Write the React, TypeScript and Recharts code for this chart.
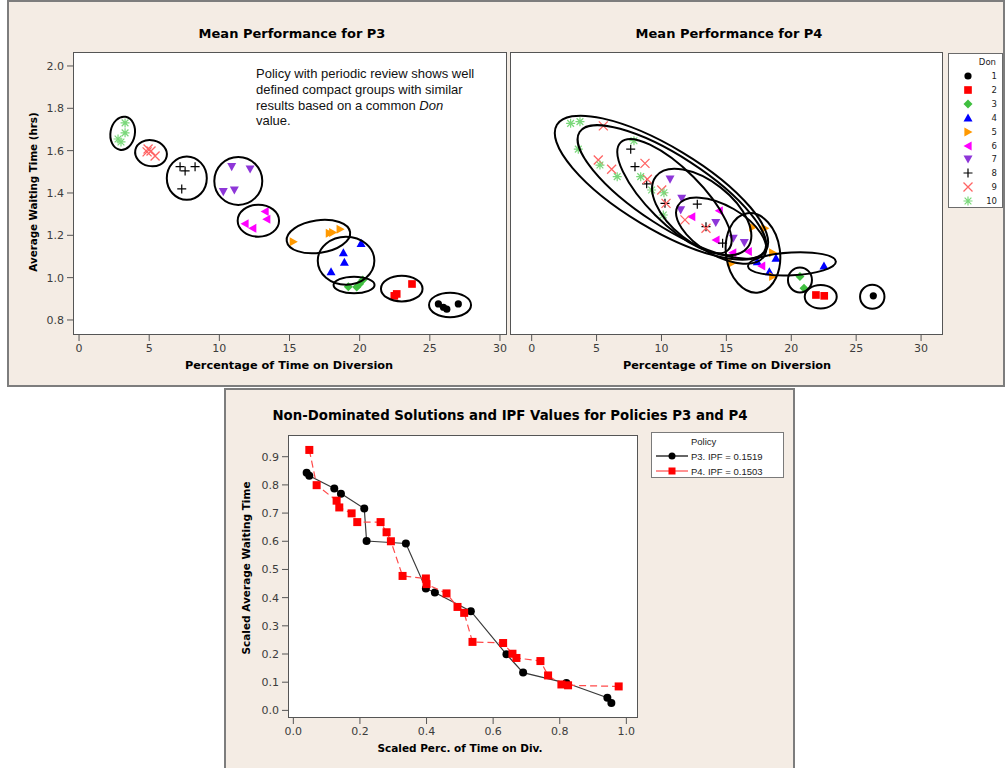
import React from "react";
import { ScatterChart, Scatter, XAxis, YAxis } from "recharts";

type Pair = [number, number];

// ---- Mean Performance for P3 (x = % time on diversion, y = avg waiting time) ----
const p3Don1: Pair[] = [[25.61, 0.876], [25.97, 0.86], [26.21, 0.851], [27.03, 0.876]];
const p3Don2: Pair[] = [[22.64, 0.923], [22.47, 0.914], [23.73, 0.97]];
const p3Don3: Pair[] = [[19.19, 0.957], [19.79, 0.956], [19.99, 0.97], [20.22, 0.989]];
const p3Don4: Pair[] = [[20.1, 1.162], [18.84, 1.118], [18.91, 1.073], [17.96, 1.028]];
const p3Don5: Pair[] = [[15.27, 1.17], [17.84, 1.21], [18.08, 1.213], [18.61, 1.229]];
const p3Don6: Pair[] = [[13.26, 1.312], [13.38, 1.276], [11.83, 1.254], [12.38, 1.233]];
const p3Don7: Pair[] = [[10.88, 1.524], [12.19, 1.513], [10.28, 1.406], [11.07, 1.414]];
const p3Don8: Pair[] = [[7.2, 1.524], [7.56, 1.504], [8.27, 1.524], [7.32, 1.419]];
const p3Don9: Pair[] = [[4.92, 1.608], [5.13, 1.598], [5.42, 1.575], [4.85, 1.594]];
const p3Don10: Pair[] = [[3.28, 1.731], [3.28, 1.684], [2.78, 1.655], [2.99, 1.641]];
const p3Centres: Pair[] = [
  [26.44, 0.871], [23.0, 0.948], [19.6, 0.965], [19.03, 1.08], [17.06, 1.194],
  [12.78, 1.269], [11.35, 1.457], [7.68, 1.47], [5.13, 1.588], [3.11, 1.682],
];

// ---- Mean Performance for P4 ----
const p4Don1: Pair[] = [[26.32, 0.914]];
const p4Don2: Pair[] = [[21.9, 0.918], [22.54, 0.914]];
const p4Don3: Pair[] = [[20.67, 1.005], [20.98, 0.95]];
const p4Don4: Pair[] = [[17.38, 1.076], [18.82, 1.092], [18.31, 1.028], [22.52, 1.055]];
const p4Don5: Pair[] = [[17.03, 1.238], [17.97, 1.233], [18.57, 1.118], [15.41, 1.068], [18.57, 1.005]];
const p4Don6: Pair[] = [[12.33, 1.288], [14.45, 1.316], [14.2, 1.178], [15.49, 1.118], [16.69, 1.123], [17.72, 1.055]];
const p4Don7: Pair[] = [[10.66, 1.465], [11.56, 1.375], [11.48, 1.32], [14.18, 1.26], [15.53, 1.186], [16.38, 1.165]];
const p4Don8: Pair[] = [[7.63, 1.607], [7.96, 1.524], [8.86, 1.443], [10.27, 1.351], [12.76, 1.347], [13.43, 1.241], [14.71, 1.163]];
const p4Don9: Pair[] = [[5.52, 1.717], [5.13, 1.556], [6.16, 1.512], [8.73, 1.54], [8.91, 1.465], [10.02, 1.414], [10.35, 1.351], [11.81, 1.273], [13.43, 1.233]];
const p4Don10: Pair[] = [[3.0, 1.729], [3.72, 1.737], [3.59, 1.607], [5.26, 1.532], [6.59, 1.477], [7.88, 1.647], [8.4, 1.477], [9.24, 1.414], [10.19, 1.401], [10.14, 1.296]];
const p4Centres: Pair[] = [
  [26.24, 0.91], [22.27, 0.91], [20.67, 0.989], [20.05, 1.065], [17.05, 1.117],
  [14.6, 1.222], [13.1, 1.31], [11.0, 1.385], [10.8, 1.405], [10.0, 1.425],
];

// ---- Non-dominated solutions (scaled) ----
const p3Front: Pair[] = [
  [0.04, 0.843], [0.048, 0.832], [0.123, 0.787], [0.143, 0.769], [0.213, 0.716],
  [0.22, 0.601], [0.338, 0.592], [0.398, 0.432], [0.425, 0.418], [0.533, 0.352],
  [0.64, 0.199], [0.69, 0.134], [0.82, 0.097], [0.943, 0.045], [0.955, 0.026],
];
const p4Front: Pair[] = [
  [0.048, 0.924], [0.07, 0.799], [0.13, 0.744], [0.138, 0.72], [0.175, 0.699],
  [0.192, 0.668], [0.262, 0.668], [0.28, 0.632], [0.293, 0.6], [0.328, 0.477],
  [0.398, 0.468], [0.4, 0.448], [0.46, 0.415], [0.493, 0.367], [0.513, 0.346],
  [0.538, 0.243], [0.63, 0.239], [0.658, 0.201], [0.67, 0.186], [0.742, 0.175],
  [0.765, 0.124], [0.805, 0.092], [0.825, 0.089], [0.977, 0.085],
];

const donLevels = [1, 2, 3, 4, 5, 6, 7, 8, 9, 10];
const perfTicksX = [0, 5, 10, 15, 20, 25, 30];
const perfTicksY = [0.8, 1.0, 1.2, 1.4, 1.6, 1.8, 2.0];
const scaledTicksX = [0, 0.2, 0.4, 0.6, 0.8, 1.0];
const scaledTicksY = [0, 0.1, 0.2, 0.3, 0.4, 0.5, 0.6, 0.7, 0.8, 0.9];
const policyNames = ["P3. IPF = 0.1519", "P4. IPF = 0.1503"];

// styling
const donShape = ["circle", "square", "diamond", "up", "right", "left", "down", "plus", "x", "star"];
const donColor = ["#000000", "#ff0000", "#3fbf3f", "#0000ff", "#ff9900", "#ff00ff", "#8e36d8", "#000000", "#ff6464", "#7ad87a"];
// ring sizes in px: rx, ry, rotation
const p3Rings = [[21, 12.3, 0], [20.8, 12.8, 0], [20.5, 8.3, 0], [28.3, 24, 0], [32, 16.3, -8], [20.7, 16, 0], [24, 24, 0], [20, 21.7, 0], [16, 13, 12], [12.2, 16.7, 10]];
const p4Rings = [[12.2, 12, 0], [16, 11.7, 0], [12, 12.5, 0], [44, 11.5, -3], [27, 40, -8], [50, 25, 30], [58, 31, 38], [76, 27, 45], [110, 35, 33], [122, 41, 31]];

const toPts = (a: Pair[]) => a.map(([x, y]) => ({ x, y }));
const p3Sets = [p3Don1, p3Don2, p3Don3, p3Don4, p3Don5, p3Don6, p3Don7, p3Don8, p3Don9, p3Don10];
const p4Sets = [p4Don1, p4Don2, p4Don3, p4Don4, p4Don5, p4Don6, p4Don7, p4Don8, p4Don9, p4Don10];

const beige = "#f4ece4";
const tickFont = { fontSize: 11, fill: "#3c3c3c", fontFamily: "DejaVu Sans" };

function Marker({ kind, x, y, color, s = 9 }: { kind: string; x: number; y: number; color: string; s?: number }) {
  const h = s / 2;
  switch (kind) {
    case "circle":
      return <circle cx={x} cy={y} r={h * 0.8} fill={color} />;
    case "square":
      return <rect x={x - h * 0.85} y={y - h * 0.85} width={h * 1.7} height={h * 1.7} fill={color} />;
    case "diamond":
      return <polygon points={`${x},${y - h} ${x + h},${y} ${x},${y + h} ${x - h},${y}`} fill={color} />;
    case "up":
      return <polygon points={`${x},${y - h} ${x + h},${y + h * 0.8} ${x - h},${y + h * 0.8}`} fill={color} />;
    case "down":
      return <polygon points={`${x},${y + h} ${x + h},${y - h * 0.8} ${x - h},${y - h * 0.8}`} fill={color} />;
    case "right":
      return <polygon points={`${x + h},${y} ${x - h * 0.8},${y - h} ${x - h * 0.8},${y + h}`} fill={color} />;
    case "left":
      return <polygon points={`${x - h},${y} ${x + h * 0.8},${y - h} ${x + h * 0.8},${y + h}`} fill={color} />;
    case "plus":
      return <path d={`M${x - h},${y}H${x + h}M${x},${y - h}V${y + h}`} stroke={color} strokeWidth={1.2} />;
    case "x":
      return <path d={`M${x - h},${y - h}L${x + h},${y + h}M${x - h},${y + h}L${x + h},${y - h}`} stroke={color} strokeWidth={1.3} />;
    default:
      return (
        <path
          d={`M${x - h},${y}H${x + h}M${x},${y - h}V${y + h}M${x - h * 0.75},${y - h * 0.75}L${x + h * 0.75},${y + h * 0.75}M${x - h * 0.75},${y + h * 0.75}L${x + h * 0.75},${y - h * 0.75}`}
          stroke={color}
          strokeWidth={1.2}
        />
      );
  }
}

function Txt({ x, y, children, size = 11, bold = false, rotate = 0, family = "DejaVu Sans", color = "#000" }: any) {
  return (
    <div
      style={{
        position: "absolute",
        left: x,
        top: y,
        transform: `translate(-50%, -50%) rotate(${rotate}deg)`,
        whiteSpace: "nowrap",
        fontSize: size,
        fontWeight: bold ? "bold" : "normal",
        fontFamily: family,
        color,
        lineHeight: 1,
      }}
    >
      {children}
    </div>
  );
}

function Frame({ left, top, width, height }: any) {
  return (
    <div
      style={{
        position: "absolute",
        left,
        top,
        width,
        height,
        background: "#fff",
        border: "1.5px solid #555",
        boxSizing: "border-box",
      }}
    />
  );
}

function PerfPanel({ sets, centres, rings, xDomain, showY }: any) {
  const ringData = centres.map(([x, y]: Pair, i: number) => ({ x, y, don: i + 1 }));
  return (
    <ScatterChart width={showY ? 474 : 433} height={313} margin={{ top: 0, right: 0, bottom: 0, left: 0 }}>
      <XAxis
        type="number"
        dataKey="x"
        domain={xDomain}
        allowDataOverflow
        ticks={perfTicksX}
        axisLine={false}
        tickSize={6}
        tickMargin={3}
        tickLine={{ stroke: "#555" }}
        tick={tickFont}
        height={30}
        interval={0}
      />
      <YAxis
        type="number"
        dataKey="y"
        domain={[0.729, 2.066]}
        allowDataOverflow
        ticks={perfTicksY}
        tickFormatter={(v: number) => v.toFixed(1)}
        axisLine={false}
        tickSize={6}
        tickMargin={3}
        tickLine={{ stroke: "#555" }}
        tick={tickFont}
        width={40}
        hide={!showY}
        interval={0}
      />
      {sets.map((s: Pair[], i: number) => (
        <Scatter
          key={i}
          name={String(donLevels[i])}
          data={toPts(s)}
          isAnimationActive={false}
          shape={(p: any) => <Marker kind={donShape[i]} x={p.cx} y={p.cy} color={donColor[i]} />}
        />
      ))}
      <Scatter
        name="rings"
        data={ringData}
        isAnimationActive={false}
        shape={(p: any) => {
          const [rx, ry, a] = rings[p.payload.don - 1];
          return (
            <ellipse
              cx={p.cx}
              cy={p.cy}
              rx={rx}
              ry={ry}
              transform={`rotate(${a} ${p.cx} ${p.cy})`}
              fill="none"
              stroke="#000"
              strokeWidth={2}
            />
          );
        }}
      />
    </ScatterChart>
  );
}

function ScaledPanel() {
  return (
    <ScatterChart width={385} height={313} margin={{ top: 0, right: 0, bottom: 0, left: 0 }}>
      <XAxis
        type="number"
        dataKey="x"
        domain={[-0.016, 1.035]}
        allowDataOverflow
        ticks={scaledTicksX}
        tickFormatter={(v: number) => v.toFixed(1)}
        axisLine={false}
        tickSize={6}
        tickMargin={3}
        tickLine={{ stroke: "#555" }}
        tick={tickFont}
        height={30}
        interval={0}
      />
      <YAxis
        type="number"
        dataKey="y"
        domain={[-0.027, 0.977]}
        allowDataOverflow
        ticks={scaledTicksY}
        tickFormatter={(v: number) => v.toFixed(1)}
        axisLine={false}
        tickSize={6}
        tickMargin={3}
        tickLine={{ stroke: "#555" }}
        tick={tickFont}
        width={35}
        interval={0}
      />
      <Scatter
        name={policyNames[0]}
        data={toPts(p3Front)}
        line={{ stroke: "#3a3a3a", strokeWidth: 1.2 }}
        lineType="joint"
        isAnimationActive={false}
        shape={(p: any) => <circle cx={p.cx} cy={p.cy} r={4} fill="#000" />}
      />
      <Scatter
        name={policyNames[1]}
        data={toPts(p4Front)}
        line={{ stroke: "#ff4a4a", strokeWidth: 1.2, strokeDasharray: "7 4" }}
        lineType="joint"
        isAnimationActive={false}
        shape={(p: any) => <rect x={p.cx - 4} y={p.cy - 4} width={8} height={8} fill="#ff0000" />}
      />
    </ScatterChart>
  );
}

export default function App() {
  return (
    <div style={{ position: "absolute", left: 0, top: 0, width: 1005, height: 768, background: "#fff", overflow: "hidden", fontFamily: "DejaVu Sans" }}>
      {/* top panel */}
      <div style={{ position: "absolute", left: 7, top: 0, width: 998, height: 387, background: beige, border: "2px solid #7d7d7d", boxSizing: "border-box" }} />
      <Frame left={73} top={52} width={434} height={283} />
      <Frame left={510} top={52} width={433} height={283} />
      <div style={{ position: "absolute", left: 33, top: 52 }}>
        <PerfPanel sets={p3Sets} centres={p3Centres} rings={p3Rings} xDomain={[-0.43, 30.5]} showY />
      </div>
      <div style={{ position: "absolute", left: 510, top: 52 }}>
        <PerfPanel sets={p4Sets} centres={p4Centres} rings={p4Rings} xDomain={[-1.67, 31.69]} showY={false} />
      </div>
      <Txt x={292} y={33} size={13} bold>Mean Performance for P3</Txt>
      <Txt x={729} y={33} size={13} bold>Mean Performance for P4</Txt>
      <Txt x={289} y={366} size={11.3} bold>Percentage of Time on Diversion</Txt>
      <Txt x={727} y={366} size={11.3} bold>Percentage of Time on Diversion</Txt>
      <Txt x={33} y={192} size={10.3} bold rotate={-90}>Average Waiting Time (hrs)</Txt>
      <div style={{ position: "absolute", left: 256, top: 66, fontFamily: "Liberation Sans", fontSize: 13, lineHeight: "15.8px", color: "#111" }}>
        Policy with periodic review shows well
        <br />
        defined compact groups with similar
        <br />
        results based on a common <i>Don</i>
        <br />
        value.
      </div>
      {/* Don legend */}
      <div style={{ position: "absolute", left: 948, top: 53, width: 55, height: 155, background: "#fff", border: "1px solid #6b6b6b", boxSizing: "border-box" }}>
        <div style={{ position: "absolute", right: 6, top: 3, fontSize: 8.5, color: "#222" }}>Don</div>
        {donLevels.map((d, i) => (
          <div key={d} style={{ position: "absolute", left: 0, top: 16 + i * 13.9, width: 53, height: 12 }}>
            <svg width={14} height={12} style={{ position: "absolute", left: 12, top: 0 }}>
              <Marker kind={donShape[i]} x={7} y={6} color={donColor[i]} s={9} />
            </svg>
            <div style={{ position: "absolute", right: 5, top: 1, fontSize: 8.5, color: "#222" }}>{d}</div>
          </div>
        ))}
      </div>

      {/* bottom panel */}
      <div style={{ position: "absolute", left: 224, top: 388, width: 571, height: 385, background: beige, border: "2px solid #7d7d7d", boxSizing: "border-box" }} />
      <Frame left={288} top={435} width={350} height={283} />
      <div style={{ position: "absolute", left: 253, top: 435 }}>
        <ScaledPanel />
      </div>
      <Txt x={510} y={416} size={13.3} bold>Non-Dominated Solutions and IPF Values for Policies P3 and P4</Txt>
      <Txt x={460} y={748} size={10.5} bold>Scaled Perc. of Time on Div.</Txt>
      <Txt x={246} y={568} size={10.5} bold rotate={-90}>Scaled Average Waiting Time</Txt>
      <div style={{ position: "absolute", left: 651, top: 432, width: 133, height: 46, background: "#fff", border: "1px solid #7a7a7a", boxSizing: "border-box", fontFamily: "Liberation Sans", fontSize: 9.5, color: "#222" }}>
        <div style={{ position: "absolute", left: 39, top: 3 }}>Policy</div>
        <svg width={36} height={34} style={{ position: "absolute", left: 3, top: 17 }}>
          <line x1={1} y1={6} x2={33} y2={6} stroke="#000" strokeWidth={1.2} />
          <circle cx={17} cy={6} r={3.5} fill="#000" />
          <line x1={1} y1={21} x2={33} y2={21} stroke="#ff4a4a" strokeWidth={1.2} />
          <rect x={13.5} y={17.5} width={7} height={7} fill="#ff0000" />
        </svg>
        <div style={{ position: "absolute", left: 39, top: 18 }}>{policyNames[0]}</div>
        <div style={{ position: "absolute", left: 39, top: 33 }}>{policyNames[1]}</div>
      </div>
    </div>
  );
}
